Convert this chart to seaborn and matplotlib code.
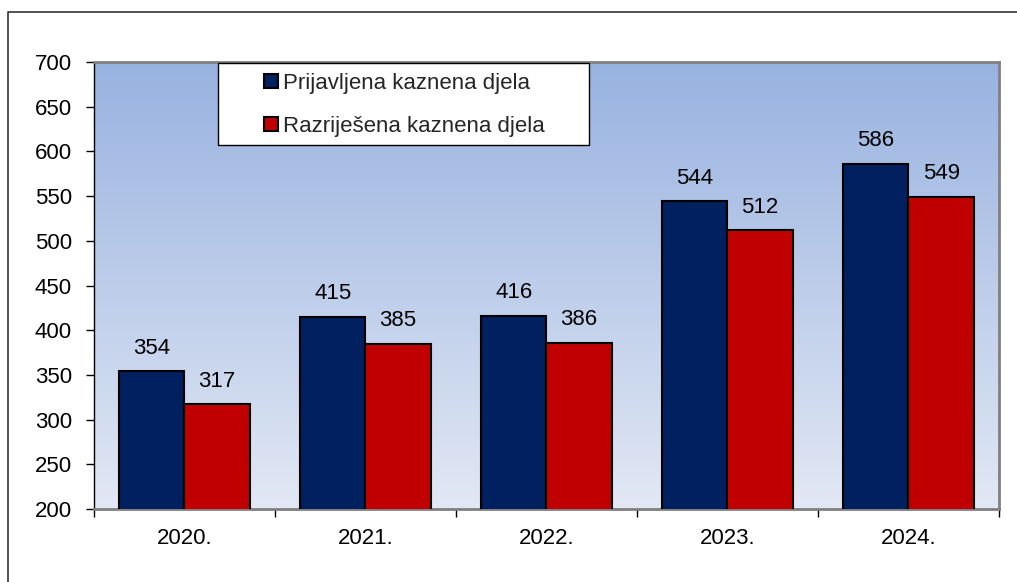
import numpy as np
import pandas as pd
import matplotlib
matplotlib.use("Agg")
import matplotlib.pyplot as plt
from matplotlib.colors import LinearSegmentedColormap
from matplotlib.patches import Rectangle, Patch
from matplotlib.lines import Line2D
import seaborn as sns

# data
years = ['2020.', '2021.', '2022.', '2023.', '2024.']
reported = [354, 415, 416, 544, 586]
solved = [317, 385, 386, 512, 549]
series_names = ['Prijavljena kaznena djela', 'Razriješena kaznena djela']
y_ticks = [200, 250, 300, 350, 400, 450, 500, 550, 600, 650, 700]

NAVY = '#00205F'
RED = '#C00000'
FS = 16

df = pd.DataFrame({
    'Godina': years * 2,
    'Broj': reported + solved,
    'Serija': [series_names[0]] * len(years) + [series_names[1]] * len(years),
})

sns.set_theme(style='white')
plt.rcParams['font.family'] = ['Liberation Sans', 'DejaVu Sans']

fig = plt.figure(figsize=(10.17, 5.82), dpi=100)
ax = fig.add_axes([0.0924, 0.1254, 0.8899, 0.7681])

sns.barplot(df, x='Godina', y='Broj', hue='Serija', order=years,
            hue_order=series_names, palette=[NAVY, RED], width=0.72,
            edgecolor='black', linewidth=1.5, saturation=1, ax=ax,
            legend=False, zorder=3)

# gradient background of the plot area
grad_cmap = LinearSegmentedColormap.from_list('bg', ['#E2E8F4', '#98B2E0'])
ax.imshow(np.linspace(0, 1, 256).reshape(-1, 1), cmap=grad_cmap, aspect='auto',
          extent=(-0.5, 4.5, 200, 700), origin='lower', zorder=0)

ax.set_xlim(-0.5, 4.5)
ax.set_ylim(200, 700)
ax.set_yticks(y_ticks)
ax.set_xticks(range(len(years)))
ax.set_xticklabels(years)
ax.set_xticks(np.arange(-0.5, 5, 1), minor=True)
ax.tick_params(axis='x', which='major', length=0, pad=14, labelsize=FS, colors='black')
ax.tick_params(axis='x', which='minor', length=6, width=1, color='black', direction='out', bottom=True)
ax.tick_params(axis='y', length=6, width=1, color='black', direction='out', left=True,
               pad=10, labelsize=FS, labelcolor='black')
ax.set_xlabel('')
ax.set_ylabel('')
ax.grid(False)

for side in ['top', 'right', 'bottom']:
    ax.spines[side].set_color('#808080')
    ax.spines[side].set_linewidth(2)
ax.spines['left'].set_color('black')
ax.spines['left'].set_linewidth(1)

for cont in ax.containers:
    ax.bar_label(cont, padding=9, fontsize=FS, color='black')

# legend box
ax.add_patch(Rectangle((0.137, 0.814), 0.41, 0.184, transform=ax.transAxes,
                       facecolor='white', edgecolor='black', linewidth=1, zorder=5))
handles = [Patch(facecolor=NAVY, edgecolor='black', linewidth=1.5),
           Patch(facecolor=RED, edgecolor='black', linewidth=1.5)]
leg = ax.legend(handles, series_names, loc='center left', bbox_to_anchor=(0.176, 0.904),
                frameon=False, fontsize=FS, handlelength=0.6, handleheight=0.6,
                handletextpad=0.25, labelspacing=1.0, borderpad=0)
leg.set_zorder(6)

# outer chart border (left and top)
fig.add_artist(Line2D([0.008, 0.008, 1.0], [0.0, 0.979, 0.979], transform=fig.transFigure,
                      color='#333333', linewidth=1.2))

fig.savefig('out.png', dpi=100)
